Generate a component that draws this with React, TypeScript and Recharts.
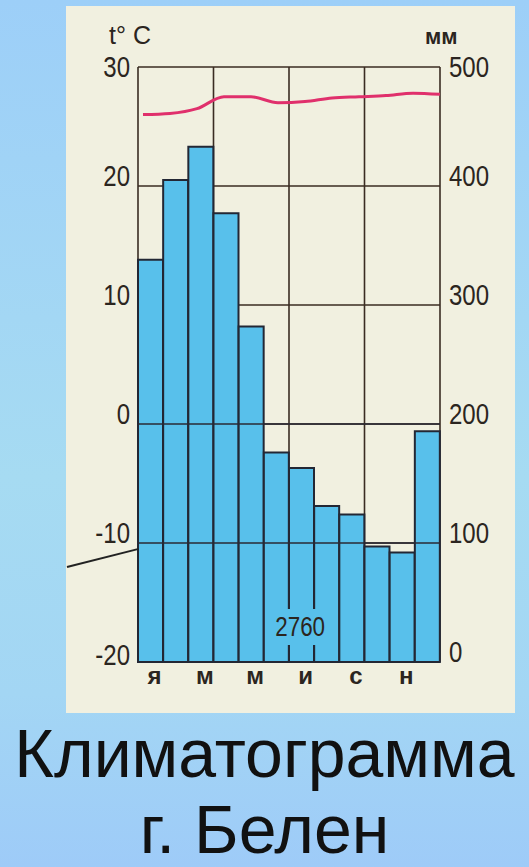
import React from 'react';
import {
  ComposedChart,
  Bar,
  Line,
  XAxis,
  YAxis,
  CartesianGrid,
  ReferenceLine,
} from 'recharts';

// Белен: месячные осадки (мм) и средняя температура (°C)
const months = [
  'Январь', 'Февраль', 'Март', 'Апрель', 'Май', 'Июнь',
  'Июль', 'Август', 'Сентябрь', 'Октябрь', 'Ноябрь', 'Декабрь',
];
const monthLetters = ['я', 'ф', 'м', 'а', 'м', 'и', 'и', 'а', 'с', 'о', 'н', 'д'];
const precipitation = [338, 405, 433, 377, 282, 176, 163, 131, 124, 97, 92, 194];
const temperature = [26.0, 26.1, 26.5, 27.5, 27.5, 27.0, 27.1, 27.4, 27.5, 27.6, 27.8, 27.7];

const tempTicks = [-20, -10, 0, 10, 20, 30];
const precipTicks = [0, 100, 200, 300, 400, 500];
const seasonTicks = [0, 3, 6, 9, 12];
const annualTotal = 2760;

const title = 'Климатограмма';
const subtitle = 'г. Белен';

const INK = '#2b2520';
const DIGITS = "'Liberation Sans', Arial, sans-serif";

const chartData = months.map((m, i) => ({
  month: m,
  mid: i + 0.5,
  precip: precipitation[i],
  temp: temperature[i],
}));

const TempTick = (props: any) => {
  const { x, y, payload } = props;
  const v = payload.value;
  const dy = v === 30 ? 10 : v === -20 ? 3 : 0;
  return (
    <g transform={`translate(${x},${y + dy})`}>
      <text transform="scale(0.8,1)" textAnchor="end" fontSize={30} fontFamily={DIGITS} fill={INK}>
        {v}
      </text>
    </g>
  );
};

const PrecipTick = (props: any) => {
  const { x, y, payload } = props;
  const v = payload.value;
  const dy = v === 500 ? 10 : 0;
  return (
    <g transform={`translate(${x},${y + dy})`}>
      <text transform="scale(0.8,1)" textAnchor="start" fontSize={30} fontFamily={DIGITS} fill={INK}>
        {v}
      </text>
    </g>
  );
};

export default function App() {
  return (
    <div
      style={{
        position: 'absolute',
        left: 0,
        top: 0,
        width: 529,
        height: 867,
        overflow: 'hidden',
        background: 'linear-gradient(180deg, #9dcff8 0%, #a6dbf2 55%, #a3d6f4 80%, #9ecbf8 100%)',
      }}
    >
      {/* paper */}
      <div style={{ position: 'absolute', left: 66, top: 6, width: 449, height: 707, background: '#f1f0e0' }} />

      <div style={{ position: 'absolute', left: 0, top: 0 }}>
        <ComposedChart
          width={529}
          height={700}
          data={chartData}
          margin={{ top: 67, right: 0, bottom: 8, left: 0 }}
          barCategoryGap={0}
        >
          <XAxis
            xAxisId="grid"
            dataKey="mid"
            type="number"
            domain={[0, 12]}
            allowDataOverflow
            ticks={seasonTicks}
            hide
          />
          <XAxis xAxisId="line" dataKey="month" scale="point" padding={{ left: 5, right: 0 }} hide />
          <XAxis
            xAxisId="bar"
            dataKey="month"
            interval={0}
            height={30}
            axisLine={false}
            tickLine={false}
            tickSize={0}
            tickMargin={5}
            dx={4}
            tickFormatter={(_v: any, i: number) => (i % 2 === 0 ? monthLetters[i] : '')}
            tick={{ fontSize: 24, fontWeight: 700, fill: INK, fontFamily: DIGITS }}
          />
          <YAxis
            yAxisId="t"
            orientation="left"
            width={138}
            domain={[-20, 30]}
            ticks={tempTicks}
            axisLine={false}
            tickLine={false}
            tickSize={0}
            tickMargin={8}
            tick={<TempTick />}
          />
          <YAxis
            yAxisId="p"
            orientation="right"
            width={89}
            domain={[0, 500]}
            ticks={precipTicks}
            axisLine={false}
            tickLine={false}
            tickSize={0}
            tickMargin={9}
            tick={<PrecipTick />}
          />
          <CartesianGrid xAxisId="grid" yAxisId="t" stroke="#3a2c22" strokeWidth={1.6} />
          <Bar
            xAxisId="bar"
            yAxisId="p"
            dataKey="precip"
            fill="#58c0eb"
            stroke="#232734"
            strokeWidth={2}
            isAnimationActive={false}
          />
          <ReferenceLine xAxisId="bar" yAxisId="t" y={0} stroke="#2a2a35" strokeWidth={1.6} />
          <ReferenceLine xAxisId="bar" yAxisId="t" y={-10} stroke="#2a2a35" strokeWidth={1.6} />
          <Line
            xAxisId="line"
            yAxisId="t"
            dataKey="temp"
            type="monotone"
            stroke="#e0306c"
            strokeWidth={3}
            dot={false}
            isAnimationActive={false}
          />
        </ComposedChart>
      </div>

      {/* axis units */}
      <div style={{ position: 'absolute', left: 109, top: 20, fontSize: 25, fontFamily: DIGITS, color: INK, lineHeight: '30px' }}>
        t° C
      </div>
      <div style={{ position: 'absolute', left: 425, top: 24, fontSize: 22, fontWeight: 700, fontFamily: DIGITS, color: INK, lineHeight: '26px' }}>
        мм
      </div>

      {/* annual total */}
      <div
        style={{
          position: 'absolute',
          left: 270,
          top: 609,
          width: 60,
          height: 36,
          background: '#58c0eb',
          display: 'flex',
          alignItems: 'center',
          justifyContent: 'center',
        }}
      >
        <span style={{ display: 'inline-block', transform: 'scaleX(0.8)', fontSize: 28, fontFamily: DIGITS, color: INK }}>
          {annualTotal}
        </span>
      </div>

      {/* pointer line from outside the page */}
      <div
        style={{
          position: 'absolute',
          left: 67,
          top: 566,
          width: 74,
          height: 2,
          background: '#222',
          transformOrigin: '0 50%',
          transform: 'rotate(-14.2deg)',
        }}
      />

      {/* caption */}
      {[title, subtitle].map((t, i) => (
        <div
          key={t}
          style={{
            position: 'absolute',
            left: 0,
            top: 723 + i * 76,
            width: 529,
            textAlign: 'center',
            fontFamily: "'Liberation Sans', Arial, sans-serif",
            fontSize: 68,
            lineHeight: '60px',
            height: 60,
            color: '#111',
          }}
        >
          {t}
        </div>
      ))}
    </div>
  );
}
